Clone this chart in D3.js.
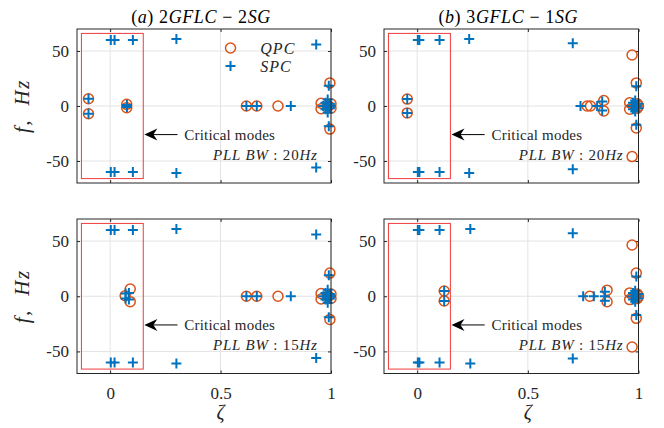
<!DOCTYPE html>
<html>
<head>
<meta charset="utf-8">
<script src="https://cdn.jsdelivr.net/npm/d3@7"></script>
<style>
  html, body { margin: 0; padding: 0; background: #fff; }
  svg { display: block; }
</style>
</head>
<body>
<svg id="chart" width="664" height="428"></svg>
<script>
// Eigenvalue damping (zeta) vs. frequency (Hz) for two network setups and two PLL bandwidths.

// (a) 2GFLC-2SG, PLL BW 20 Hz
const aQpcZeta = [-0.098, -0.098, 0.075, 0.075, 0.617, 0.664, 0.76, 0.955, 0.955, 0.99, 1.0, 1.0, 0.995, 0.995];
const aQpcFreq = [6.6, -7.0, 1.5, -1.5, 0, 0, 0, 2.5, -2.5, 0, 2, -2, 21, -21];
const aSpcZeta = [0.003, 0.003, 0.02, 0.02, 0.103, 0.103, 0.3, 0.3, 0.933, 0.933, -0.098, -0.098, 0.076, 0.076,
                  0.617, 0.664, 0.818, 0.99, 0.99, 0.965, 0.975, 0.975, 0.985, 0.985, 0.99, 0.995, 0.995, 1.0, 0.98];
const aSpcFreq = [60, -60, 60, -60, 60, -60, 61, -61, 56, -56, 6.6, -7.0, 1, -1,
                  0, 0, 0, 18.5, -18.5, 0, 3, -3, 6, -6, 0, 2, -2, 0, 0];

// (b) 3GFLC-1SG, PLL BW 20 Hz
const bQpcZeta = [-0.045, -0.045, 0.768, 0.783, 0.843, 0.843, 0.971, 0.971, 0.99, 0.99, 0.96, 0.96, 0.985, 0.995, 0.995, 1.0];
const bQpcFreq = [6.3, -6.3, 0, 0, 5, -4.5, 46.4, -46, 21, -20, 3, -3, 0, 2, -2, 0];
const bSpcZeta = [0.003, 0.003, 0.01, 0.01, 0.101, 0.101, 0.235, 0.235, 0.703, 0.703, -0.045, -0.045,
                  0.738, 0.813, 0.836, 0.836, 0.99, 0.99, 0.97, 0.975, 0.975, 0.985, 0.985, 0.99, 1.0, 1.0];
const bSpcFreq = [60, -60, 60, -60, 60, -60, 61, -61, 57, -57.5, 6.3, -6.3,
                  0, 0, 4, -4, 18, -17, 0, 3, -3, 5, -5, 0, 2, -2];

// (a) 2GFLC-2SG, PLL BW 15 Hz
const cQpcZeta = [0.068, 0.091, 0.091, 0.617, 0.664, 0.76, 0.955, 0.955, 0.99, 1.0, 1.0, 0.995, 0.995];
const cQpcFreq = [0.5, 6.6, -4.9, 0, 0, 0, 2.5, -2.5, 0, 2, -2, 21, -21];
const cSpcZeta = [0.003, 0.003, 0.02, 0.02, 0.103, 0.103, 0.3, 0.3, 0.933, 0.933, 0.07, 0.07, 0.085, 0.085,
                  0.617, 0.664, 0.818, 0.99, 0.99, 0.965, 0.975, 0.975, 0.985, 0.985, 0.99, 0.995, 0.995, 1.0, 0.98];
const cSpcFreq = [60, -60, 60, -60, 60, -60, 61, -61, 56, -56, 2.5, -2, 3, -3,
                  0, 0, 0, 19, -19, 0, 3, -3, 6, -6, 0, 2, -2, 0, 0];

// (b) 3GFLC-1SG, PLL BW 15 Hz
const dQpcZeta = [0.122, 0.122, 0.78, 0.858, 0.858, 0.971, 0.971, 0.99, 0.99, 0.96, 0.96, 0.985, 0.995, 0.995, 1.0];
const dQpcFreq = [4.8, -4.2, 0, 5.5, -5, 46.4, -46, 21, -20, 3, -3, 0, 2, -2, 0];
const dSpcZeta = [0.003, 0.003, 0.01, 0.01, 0.101, 0.101, 0.24, 0.24, 0.703, 0.703, 0.122, 0.122,
                  0.75, 0.798, 0.848, 0.848, 0.848, 0.99, 0.99, 0.97, 0.975, 0.975, 0.985, 0.985, 0.99, 1.0, 1.0];
const dSpcFreq = [60, -60, 60, -60, 60, -60, 61, -61, 57, -56.5, 4.8, -4.2,
                  0, 0, 4, -4, 0, 18, -17, 0, 3, -3, 5, -5, 0, 2, -2];

const xTicks = [0, 0.5, 1];
const xTickLabels = ["0", "0.5", "1"];
const yTicks = [-50, 0, 50];
const yTickLabels = ["-50", "0", "50"];
const panelTitles = ["2GFLC", "3GFLC"];
const panelLabels = ["(a)", "(b)"];
const panelSG = ["2SG", "1SG"];
const pllBandwidths = ["20Hz", "20Hz", "15Hz", "15Hz"];
const legendNames = ["QPC", "SPC"];
const criticalBox = { zeta: [-0.13, 0.15], freq: [-66, 66] };

const panels = [
  { qz: aQpcZeta, qf: aQpcFreq, sz: aSpcZeta, sf: aSpcFreq, col: 0, row: 0, bw: pllBandwidths[0] },
  { qz: bQpcZeta, qf: bQpcFreq, sz: bSpcZeta, sf: bSpcFreq, col: 1, row: 0, bw: pllBandwidths[1] },
  { qz: cQpcZeta, qf: cQpcFreq, sz: cSpcZeta, sf: cSpcFreq, col: 0, row: 1, bw: pllBandwidths[2] },
  { qz: dQpcZeta, qf: dQpcFreq, sz: dSpcZeta, sf: dSpcFreq, col: 1, row: 1, bw: pllBandwidths[3] }
];

const QPC_COLOR = "#D95319";
const SPC_COLOR = "#0072BD";
const AXIS_COLOR = "#262626";
const SERIF = "'Liberation Serif', 'DejaVu Serif', serif";

const colX = [[77, 331], [384, 638.5]];
const rowY = [[183, 29], [373.5, 219]];

const svg = d3.select("#chart");

panels.forEach(p => {
  const x = d3.scaleLinear().domain([-0.15, 1.0]).range(colX[p.col]);
  const y = d3.scaleLinear().domain([-70, 70]).range(rowY[p.row]);
  const [x0, x1] = x.range();
  const [y0, y1] = y.range();
  const g = svg.append("g");

  // grid
  g.selectAll(".gx").data(xTicks).join("line")
    .attr("x1", d => x(d)).attr("x2", d => x(d)).attr("y1", y0).attr("y2", y1)
    .attr("stroke", "#e3e3e3").attr("stroke-width", 1);
  g.selectAll(".gy").data(yTicks).join("line")
    .attr("y1", d => y(d)).attr("y2", d => y(d)).attr("x1", x0).attr("x2", x1)
    .attr("stroke", "#e3e3e3").attr("stroke-width", 1);

  // axes with inward ticks on all four sides
  const tl = 3;
  g.append("g").attr("transform", `translate(0,${y0})`)
    .call(d3.axisBottom(x).tickValues(xTicks).tickSizeInner(-tl).tickSizeOuter(0)
      .tickFormat((d, i) => p.row === 1 ? xTickLabels[i] : ""))
    .call(a => a.select(".domain").remove())
    .call(a => a.selectAll("line").attr("stroke", AXIS_COLOR))
    .call(a => a.selectAll("text").attr("fill", "#262626").attr("font-family", SERIF)
      .attr("font-size", 17).attr("dy", "0.71em").attr("y", 13));
  g.append("g").attr("transform", `translate(0,${y1})`)
    .call(d3.axisTop(x).tickValues(xTicks).tickSizeInner(-tl).tickSizeOuter(0).tickFormat(""))
    .call(a => a.select(".domain").remove())
    .call(a => a.selectAll("line").attr("stroke", AXIS_COLOR));
  g.append("g").attr("transform", `translate(${x0},0)`)
    .call(d3.axisLeft(y).tickValues(yTicks).tickSizeInner(-tl).tickSizeOuter(0)
      .tickFormat((d, i) => yTickLabels[i]))
    .call(a => a.select(".domain").remove())
    .call(a => a.selectAll("line").attr("stroke", AXIS_COLOR))
    .call(a => a.selectAll("text").attr("fill", "#262626").attr("font-family", SERIF)
      .attr("font-size", 17).attr("x", -8));
  g.append("g").attr("transform", `translate(${x1},0)`)
    .call(d3.axisRight(y).tickValues(yTicks).tickSizeInner(-tl).tickSizeOuter(0).tickFormat(""))
    .call(a => a.select(".domain").remove())
    .call(a => a.selectAll("line").attr("stroke", AXIS_COLOR));

  // critical-mode box
  g.append("rect")
    .attr("x", x(criticalBox.zeta[0])).attr("y", y(criticalBox.freq[1]))
    .attr("width", x(criticalBox.zeta[1]) - x(criticalBox.zeta[0]))
    .attr("height", y(criticalBox.freq[0]) - y(criticalBox.freq[1]))
    .attr("fill", "none").attr("stroke", "#f03c3c").attr("stroke-width", 1);

  // QPC circles
  g.selectAll(".qpc").data(d3.range(p.qz.length)).join("circle")
    .attr("cx", i => x(p.qz[i])).attr("cy", i => y(p.qf[i])).attr("r", 5)
    .attr("fill", "none").attr("stroke", QPC_COLOR).attr("stroke-width", 1.5);

  // SPC plus markers
  const s = 5;
  g.selectAll(".spc").data(d3.range(p.sz.length)).join("path")
    .attr("d", i => {
      const cx = x(p.sz[i]), cy = y(p.sf[i]);
      return `M${cx - s},${cy}H${cx + s}M${cx},${cy - s}V${cy + s}`;
    })
    .attr("fill", "none").attr("stroke", SPC_COLOR).attr("stroke-width", 2);

  // annotation arrow
  const tipX = x(0.155), tailX = x(0.305), ay = y(-26);
  g.append("line").attr("x1", tipX + 8).attr("x2", tailX).attr("y1", ay).attr("y2", ay)
    .attr("stroke", "#000").attr("stroke-width", 1);
  g.append("path")
    .attr("d", `M${tipX},${ay}L${tipX + 13},${ay - 6}L${tipX + 9},${ay}L${tipX + 13},${ay + 6}Z`)
    .attr("fill", "#000");
  g.append("text").attr("x", x(0.336)).attr("y", ay).attr("dy", "0.35em")
    .attr("font-family", SERIF).attr("font-size", 15).attr("fill", "#262626")
    .attr("letter-spacing", 0.2)
    .text("Critical modes");

  // PLL bandwidth label
  const bwt = g.append("text").attr("x", x(p.col === 0 ? 0.94 : 0.932)).attr("y", y(-44)).attr("dy", "0.35em")
    .attr("text-anchor", "end").attr("font-family", SERIF).attr("font-size", 15).attr("fill", "#262626")
    .attr("letter-spacing", 0.8).attr("xml:space", "preserve");
  bwt.append("tspan").attr("font-style", "italic").text("PLL BW");
  bwt.append("tspan").text(" : " + p.bw.replace("Hz", ""));
  bwt.append("tspan").attr("font-style", "italic").text("Hz");

  // box
  g.append("rect").attr("x", x0).attr("y", y1).attr("width", x1 - x0).attr("height", y0 - y1)
    .attr("fill", "none").attr("stroke", AXIS_COLOR).attr("stroke-width", 1);

  // title
  if (p.row === 0) {
    const t = g.append("text").attr("x", (x0 + x1) / 2 - 3).attr("y", 23).attr("text-anchor", "middle")
      .attr("font-family", SERIF).attr("font-size", 18).attr("fill", "#000")
      .attr("letter-spacing", 0.6).attr("xml:space", "preserve");
    const lbl = panelLabels[p.col];
    t.append("tspan").text("(");
    t.append("tspan").attr("font-style", "italic").text(lbl.slice(1, 2));
    t.append("tspan").text(") " + panelTitles[p.col][0]);
    t.append("tspan").attr("font-style", "italic").text(panelTitles[p.col].slice(1));
    t.append("tspan").text(" \u2212 " + panelSG[p.col][0]);
    t.append("tspan").attr("font-style", "italic").text(panelSG[p.col].slice(1));
  }

  // y label
  if (p.col === 0) {
    g.append("text").attr("transform", `translate(29,${(y0 + y1) / 2}) rotate(-90)`)
      .attr("text-anchor", "middle").attr("font-family", SERIF).attr("font-style", "italic")
      .attr("font-size", 21).attr("fill", "#262626").attr("xml:space", "preserve")
      .attr("letter-spacing", 1.5)
      .text("f,  Hz");
  }

  // x label
  if (p.row === 1) {
    g.append("text").attr("x", x(0.5)).attr("y", 419).attr("text-anchor", "middle")
      .attr("font-family", SERIF).attr("font-style", "italic").attr("font-size", 20)
      .attr("fill", "#262626").text("\u03B6");
  }

  // legend (first panel only)
  if (p.col === 0 && p.row === 0) {
    g.append("circle").attr("cx", x(0.545)).attr("cy", y(52.7)).attr("r", 5)
      .attr("fill", "none").attr("stroke", QPC_COLOR).attr("stroke-width", 1.5);
    const lx = x(0.545), ly = y(36.4);
    g.append("path").attr("d", `M${lx - s},${ly}H${lx + s}M${lx},${ly - s}V${ly + s}`)
      .attr("stroke", SPC_COLOR).attr("stroke-width", 2);
    legendNames.forEach((n, i) => {
      g.append("text").attr("x", x(0.68)).attr("y", y(i === 0 ? 52.7 : 36.4)).attr("dy", "0.35em")
        .attr("font-family", SERIF).attr("font-style", "italic").attr("font-size", 16)
        .attr("letter-spacing", 1)
        .attr("fill", "#262626").text(n);
    });
  }
});
</script>
</body>
</html>
